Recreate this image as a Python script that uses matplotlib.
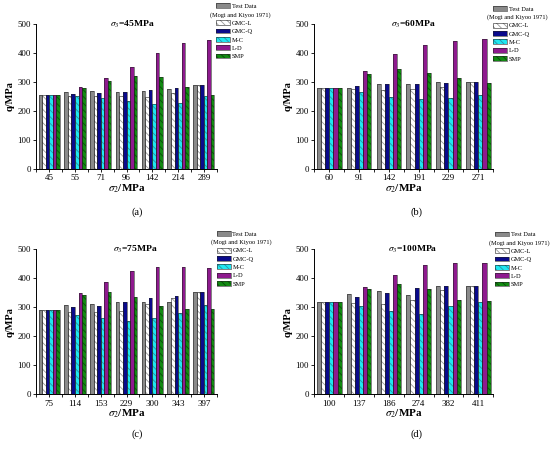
import matplotlib
matplotlib.use("Agg")
import matplotlib.pyplot as plt
import numpy as np
from matplotlib.patches import Patch
from matplotlib.ticker import FixedLocator

plt.rcParams['font.family'] = ['Liberation Serif', 'DejaVu Serif']
plt.rcParams['mathtext.fontset'] = 'stix'
plt.rcParams['hatch.linewidth'] = 0.6

series_labels = ['Test Data', 'GMC-L', 'GMC-Q', 'M-C', 'L-D', 'SMP']

# sigma3 = 45 MPa
sig2_45 = [45, 55, 71, 96, 142, 214, 289]
test45 = [254, 264, 269, 266, 269, 274, 290]
gmcl45 = [254, 252, 250, 250, 249, 262, 290]
gmcq45 = [254, 258, 261, 266, 272, 280, 290]
mc45 = [254, 250, 243, 234, 223, 226, 250]
ld45 = [254, 281, 315, 353, 400, 434, 444]
smp45 = [254, 279, 304, 321, 318, 282, 256]

# sigma3 = 60 MPa
sig2_60 = [60, 91, 142, 191, 229, 271]
test60 = [278, 278, 292, 294, 298, 298]
gmcl60 = [278, 275, 272, 276, 283, 298]
gmcq60 = [278, 286, 291, 294, 295, 298]
mc60 = [278, 265, 249, 242, 244, 253]
ld60 = [278, 338, 395, 426, 440, 447]
smp60 = [278, 328, 346, 332, 315, 295]

# sigma3 = 75 MPa
sig2_75 = [75, 114, 153, 229, 300, 343, 397]
test75 = [290, 308, 311, 317, 319, 318, 353]
gmcl75 = [290, 283, 282, 287, 310, 330, 353]
gmcq75 = [290, 299, 304, 317, 330, 338, 353]
mc75 = [290, 273, 261, 252, 264, 281, 308]
ld75 = [290, 350, 388, 426, 437, 437, 435]
smp75 = [290, 340, 352, 335, 304, 292, 295]

# sigma3 = 100 MPa
sig2_100 = [100, 137, 186, 274, 382, 411]
test100 = [319, 344, 355, 343, 374, 374]
gmcl100 = [319, 314, 312, 324, 360, 374]
gmcq100 = [319, 336, 350, 367, 374, 374]
mc100 = [319, 303, 286, 276, 303, 316]
ld100 = [319, 368, 410, 445, 453, 452]
smp100 = [319, 362, 380, 362, 324, 320]

panels = [
    ('45', sig2_45, [test45, gmcl45, gmcq45, mc45, ld45, smp45], '(a)'),
    ('60', sig2_60, [test60, gmcl60, gmcq60, mc60, ld60, smp60], '(b)'),
    ('75', sig2_75, [test75, gmcl75, gmcq75, mc75, ld75, smp75], '(c)'),
    ('100', sig2_100, [test100, gmcl100, gmcq100, mc100, ld100, smp100], '(d)'),
]

# style: fill colour, hatch colour, hatch
styles = [
    ('#8a8a8a', '#8a8a8a', None),
    ('#ffffff', '#9a9a9a', '\\\\\\\\\\'),
    ('#0a0a8c', '#0a0a8c', None),
    ('#1ee8f0', '#2a8fa8', '\\\\\\\\\\'),
    ('#8e1a8e', '#8e1a8e', None),
    ('#128a12', '#0a4a0a', '\\\\\\\\\\'),
]

W, H = 550, 451
fig = plt.figure(figsize=(W / 100, H / 100), dpi=100)

# axes boxes in pixels: left, right, top, bottom
boxes = [
    (36.4, 216.7, 24.0, 168.7),
    (314.4, 493.2, 24.0, 168.7),
    (36.4, 216.7, 249.0, 394.3),
    (314.4, 493.2, 249.0, 394.3),
]
title_x = [0.53, 0.555, 0.55, 0.548]
label_pos = [(137.3, 212.3), (416.7, 212.3), (137.3, 434.0), (416.7, 434.5)]
legend_pos = [(216.0, 3.5), (493.3, 6.0), (216.7, 231.0), (495.0, 231.5)]

bw = 0.138
legends = []
for k, (s3, cats, vals, plab) in enumerate(panels):
    l, r, t, b = boxes[k]
    ax = fig.add_axes([l / W, 1 - b / H, (r - l) / W, (b - t) / H])
    x = np.arange(len(cats))
    handles = []
    for i, (v, (fc, hc, hat)) in enumerate(zip(vals, styles)):
        xi = x + (i - 2.5) * bw
        ax.bar(xi, v, bw, color=fc, edgecolor=hc, hatch=hat, linewidth=0, zorder=2)
        ax.bar(xi, v, bw, fill=False, edgecolor='#222222', linewidth=0.4, zorder=3)
        handles.append((Patch(facecolor=fc, edgecolor=hc, hatch=hat, linewidth=0),
                        Patch(fill=False, edgecolor='#222222', linewidth=0.4)))
    ax.set_xlim(-0.5, len(cats) - 0.5)
    ax.set_ylim(0, 500)
    ax.set_yticks([0, 100, 200, 300, 400, 500])
    ax.set_xticks(x)
    ax.set_xticklabels([str(c) for c in cats])
    ax.xaxis.set_minor_locator(FixedLocator(np.arange(len(cats) + 1) - 0.5))
    for sp in ['top', 'right']:
        ax.spines[sp].set_visible(False)
    for sp in ['left', 'bottom']:
        ax.spines[sp].set_linewidth(0.7)
    ax.tick_params(axis='y', direction='out', length=2.5, width=0.6, labelsize=6.3, pad=1.5)
    ax.tick_params(axis='x', which='major', direction='out', length=2, width=0.6, labelsize=6.5, pad=2)
    ax.tick_params(axis='x', which='minor', direction='out', length=2, width=0.6)
    ax.set_ylabel('q/MPa', fontsize=7.5, fontweight='bold', labelpad=2)
    ax.set_xlabel(r'$\sigma_2$/MPa', fontsize=8, fontweight='bold', labelpad=0)
    ax.text(title_x[k], 1.0, r'$\sigma_3$=' + s3 + 'MPa', transform=ax.transAxes,
            ha='center', va='center', fontsize=6.8, fontweight='bold')
    fig.text(label_pos[k][0] / W, 1 - label_pos[k][1] / H, plab, ha='center', va='center', fontsize=7.5)

    # legend with a blank row for the citation line
    hl = [handles[0], Patch(visible=False)] + handles[1:]
    ll = [series_labels[0], ' '] + series_labels[1:]
    lx, ly = legend_pos[k]
    leg = ax.legend(hl, ll, loc='upper left', bbox_to_anchor=(lx / W, 1 - ly / H),
                    bbox_transform=fig.transFigure, frameon=False, fontsize=4.6,
                    borderpad=0, borderaxespad=0, handlelength=2.2, handleheight=0.8,
                    handletextpad=0.25, labelspacing=0.42)
    legends.append(leg)

fig.canvas.draw()
for leg in legends:
    bb = leg.get_window_extent()
    tb = leg.get_texts()[1].get_window_extent()
    yc = (tb.y0 + tb.y1) / 2
    fig.text((bb.x0 - 6) / W, yc / H, '(Mogi and Kiyoo 1971)', ha='left', va='center', fontsize=4.6)

fig.savefig('out.png', dpi=100)
